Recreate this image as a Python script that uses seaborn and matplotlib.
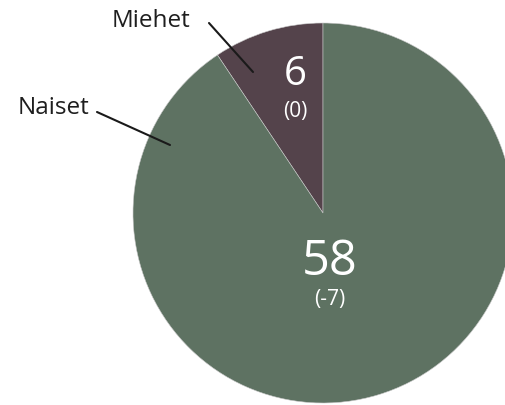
import matplotlib
matplotlib.use('Agg')
import matplotlib.pyplot as plt
import seaborn as sns

# data
labels = ['Miehet', 'Naiset']
values = [6, 58]
changes = ['(0)', '(-7)']
colors = ['#54434b', '#5e7262']

sns.set_theme(style='white')
plt.rcParams['font.family'] = ['Open Sans', 'DejaVu Sans']

fig = plt.figure(figsize=(5.05, 4.06), dpi=100)
ax = fig.add_axes([0, 0, 1, 1])

# pie centre and radius in pixels, used to place the axes window
cx, cy, r = 323, 214, 190

wedges, _ = ax.pie(values, colors=colors, startangle=90, counterclock=True,
                   radius=1, center=(0, 0),
                   wedgeprops=dict(edgecolor='#c8c8c8', linewidth=0.4))
ax.set_aspect('equal')
ax.set_xlim(-cx / r, (505 - cx) / r)
ax.set_ylim(-(406 - cy) / r, cy / r)
ax.axis('off')


def px(x, y):
    return (x - cx) / r, (cy - y) / r


# value labels
ax.text(*px(295, 75), str(values[0]), color='white', fontsize=29, ha='center', va='center')
ax.text(*px(295, 112), changes[0], color='white', fontsize=15, ha='center', va='center')
ax.text(*px(330, 262), str(values[1]), color='white', fontsize=35, ha='center', va='center')
ax.text(*px(330, 300), changes[1], color='white', fontsize=15, ha='center', va='center')

# category labels with leader lines
ax.text(*px(151, 21), labels[0], color='#1e1e1e', fontsize=17.5, ha='center', va='center')
ax.plot(*zip(px(209, 24), px(253, 73)), color='#1a1a1a', lw=1.5)
ax.text(*px(54, 108), labels[1], color='#1e1e1e', fontsize=17.5, ha='center', va='center')
ax.plot(*zip(px(97, 113), px(170, 146)), color='#1a1a1a', lw=1.5)

fig.savefig('out.png', dpi=100)
